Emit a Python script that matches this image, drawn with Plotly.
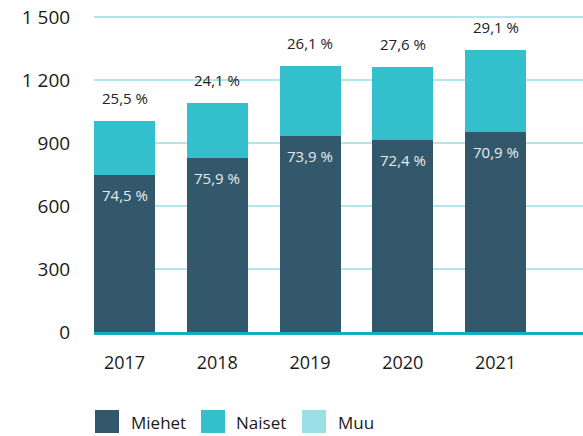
import plotly.graph_objects as go

years = ["2017", "2018", "2019", "2020", "2021"]
miehet = [749, 827, 936, 913, 952]
naiset = [256, 263, 331, 349, 391]
muu = [0, 0, 0, 0, 0]
miehet_pct = ["74,5 %", "75,9 %", "73,9 %", "72,4 %", "70,9 %"]
naiset_pct = ["25,5 %", "24,1 %", "26,1 %", "27,6 %", "29,1 %"]
y_ticks = [0, 300, 600, 900, 1200, 1500]
series_names = ["Miehet", "Naiset", "Muu"]

C_M = "#34586b"
C_N = "#33bfcc"
C_U = "#9be0e6"
colors = [C_M, C_N, C_U]
FONT = "'Open Sans', sans-serif"

fig = go.Figure()
for nm, vals, c in zip(series_names, [miehet, naiset, muu], colors):
    fig.add_bar(x=years, y=vals, marker_color=c, name=nm, showlegend=False,
                textposition="none", marker_line_width=0)

totals = [a + b + c for a, b, c in zip(miehet, naiset, muu)]
for i, (t, lab) in enumerate(zip(totals, naiset_pct)):
    fig.add_annotation(x=i, y=t, text=lab, showarrow=False, yshift=23,
                       font=dict(size=15, color="#222222", family=FONT))
for i, (m, lab) in enumerate(zip(miehet, miehet_pct)):
    fig.add_annotation(x=i, y=m, text=lab, showarrow=False, yshift=-20,
                       font=dict(size=15, color="#e6ecee", family=FONT))

# legend (drawn as squares + labels below the plot); paper coords
PH = 317.0
def py(page_y):
    return (332.0 - page_y) / PH

sq_x0 = [0.002, 0.2188, 0.4253]
txt_x = [0.0716, 0.2863, 0.4949]
for nm, c, x0, tx in zip(series_names, colors, sq_x0, txt_x):
    fig.add_shape(type="rect", xref="paper", yref="paper",
                  x0=x0, x1=x0 + 0.0491, y0=py(433), y1=py(410),
                  fillcolor=c, line_width=0)
    fig.add_annotation(xref="paper", yref="paper", x=tx, y=py(422),
                       xanchor="left", yanchor="middle", text=nm, showarrow=False,
                       font=dict(size=17, color="#1a1a1a", family=FONT))

fig.update_layout(
    barmode="stack", bargap=0.342,
    width=583, height=436,
    margin=dict(l=94, r=0, t=15, b=104, autoexpand=False),
    plot_bgcolor="white", paper_bgcolor="white",
    separators=", ",
    font=dict(family=FONT, color="#1a1a1a"),
    showlegend=False,
)
fig.update_xaxes(type="category", range=[-0.329, 4.943], showline=True,
                 linecolor="#13aebf", linewidth=3,
                 ticks="outside", ticklen=12, tickcolor="rgba(0,0,0,0)",
                 tickfont=dict(size=18, family=FONT, color="#1a1a1a"), showgrid=False)
fig.update_yaxes(range=[0, 1510], tickvals=y_ticks, tickformat=",d",
                 showgrid=True, gridcolor="#b2e6ec", gridwidth=2, zeroline=False,
                 ticks="outside", ticklen=19, tickcolor="rgba(0,0,0,0)",
                 ticklabeloverflow="allow",
                 tickfont=dict(size=19, family=FONT, color="#1a1a1a"))

fig.write_html("out.html", config={"displayModeBar": False},
               post_script="document.body.style.margin='0';document.body.style.overflow='hidden';")
